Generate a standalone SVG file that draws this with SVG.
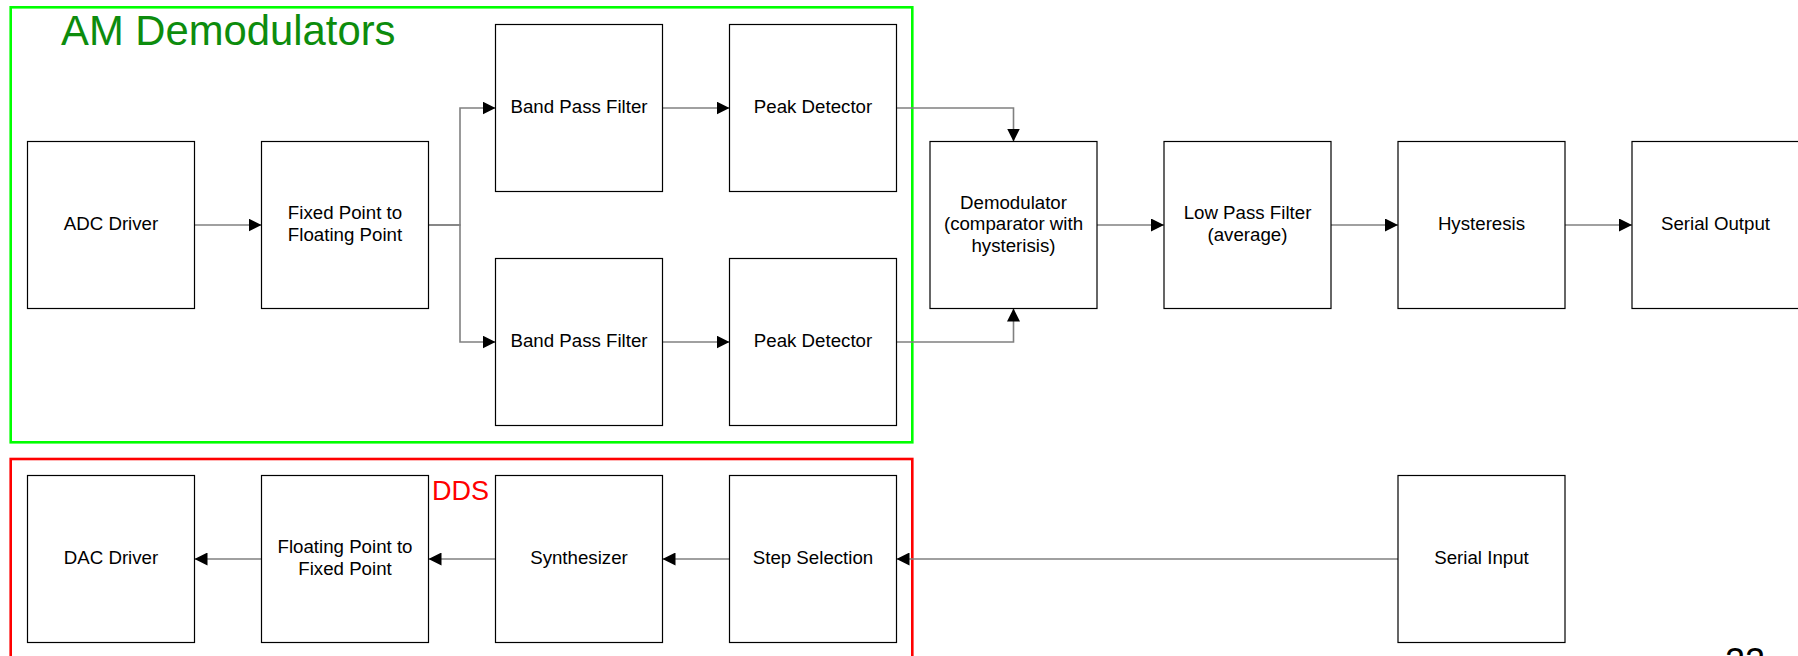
<svg xmlns="http://www.w3.org/2000/svg" width="1798" height="656" viewBox="0 0 1798 656">
  <defs>
    <marker id="arrow" viewBox="0 0 13 13" refX="13" refY="6.5" markerWidth="13" markerHeight="13" markerUnits="userSpaceOnUse" orient="auto">
      <path d="M0,0 L13,6.5 L0,13 z" fill="#000"/>
    </marker>
    <style>
      .box { fill: #fff; stroke: #000; stroke-width: 1.2; }
      .lbl { font-family: "Liberation Sans", Arial, sans-serif; font-size: 18.7px; fill: #000; text-anchor: middle; }
      .wire { fill: none; stroke: #808080; stroke-width: 1.6; marker-end: url(#arrow); }
      .frame { fill: none; stroke-width: 2.6; }
    </style>
  </defs>
  <rect width="1798" height="656" fill="#fff"/>

  <!-- group frames -->
  <g id="am-demodulators">
    <rect class="frame" x="10.7" y="7.3" width="901.6" height="435" stroke="#00ff00"/>
    <text x="61" y="45" font-family="Liberation Sans, Arial, sans-serif" font-size="41.8" fill="#0d8c0d">AM Demodulators</text>
  </g>
  <g id="dds">
    <rect class="frame" x="10.7" y="459" width="901.6" height="220" stroke="#ff0000"/>
    <text x="432" y="500" font-family="Liberation Sans, Arial, sans-serif" font-size="27" fill="#ff0000">DDS</text>
  </g>

  <!-- connectors -->
  <g id="connectors">
    <path class="wire" d="M194.5 225 H261.5"/>
    <path class="wire" d="M428.5 225 H460 V108 H495.5"/>
    <path class="wire" d="M428.5 225 H460 V342 H495.5"/>
    <path class="wire" d="M662.5 108 H729.5"/>
    <path class="wire" d="M662.5 342 H729.5"/>
    <path class="wire" d="M896.5 108 H1013.5 V141.5"/>
    <path class="wire" d="M896.5 342 H1013.5 V308.5"/>
    <path class="wire" d="M1097 225 H1164"/>
    <path class="wire" d="M1331 225 H1398"/>
    <path class="wire" d="M1565 225 H1632"/>
    <path class="wire" d="M1398 559 H896.5"/>
    <path class="wire" d="M729.5 559 H662.5"/>
    <path class="wire" d="M495.5 559 H428.5"/>
    <path class="wire" d="M261.5 559 H194.5"/>
  </g>

  <!-- receive chain -->
  <g id="adc-driver">
    <rect class="box" x="27.5" y="141.5" width="167" height="167"/>
    <text class="lbl" x="111" y="230.3">ADC Driver</text>
  </g>
  <g id="fixed-to-float">
    <rect class="box" x="261.5" y="141.5" width="167" height="167"/>
    <text class="lbl" x="345" y="219.4">Fixed Point to</text>
    <text class="lbl" x="345" y="241.1">Floating Point</text>
  </g>
  <g id="band-pass-1">
    <rect class="box" x="495.5" y="24.5" width="167" height="167"/>
    <text class="lbl" x="579" y="113.3">Band Pass Filter</text>
  </g>
  <g id="peak-detector-1">
    <rect class="box" x="729.5" y="24.5" width="167" height="167"/>
    <text class="lbl" x="813" y="113.3">Peak Detector</text>
  </g>
  <g id="band-pass-2">
    <rect class="box" x="495.5" y="258.5" width="167" height="167"/>
    <text class="lbl" x="579" y="347.3">Band Pass Filter</text>
  </g>
  <g id="peak-detector-2">
    <rect class="box" x="729.5" y="258.5" width="167" height="167"/>
    <text class="lbl" x="813" y="347.3">Peak Detector</text>
  </g>
  <g id="demodulator">
    <rect class="box" x="930" y="141.5" width="167" height="167"/>
    <text class="lbl" x="1013.5" y="208.6">Demodulator</text>
    <text class="lbl" x="1013.5" y="230.3">(comparator with</text>
    <text class="lbl" x="1013.5" y="252">hysterisis)</text>
  </g>
  <g id="low-pass">
    <rect class="box" x="1164" y="141.5" width="167" height="167"/>
    <text class="lbl" x="1247.5" y="219.4">Low Pass Filter</text>
    <text class="lbl" x="1247.5" y="241.1">(average)</text>
  </g>
  <g id="hysteresis">
    <rect class="box" x="1398" y="141.5" width="167" height="167"/>
    <text class="lbl" x="1481.5" y="230.3">Hysteresis</text>
  </g>
  <g id="serial-output">
    <rect class="box" x="1632" y="141.5" width="167" height="167"/>
    <text class="lbl" x="1715.5" y="230.3">Serial Output</text>
  </g>

  <!-- transmit chain -->
  <g id="dac-driver">
    <rect class="box" x="27.5" y="475.5" width="167" height="167"/>
    <text class="lbl" x="111" y="564.3">DAC Driver</text>
  </g>
  <g id="float-to-fixed">
    <rect class="box" x="261.5" y="475.5" width="167" height="167"/>
    <text class="lbl" x="345" y="553.4">Floating Point to</text>
    <text class="lbl" x="345" y="575.1">Fixed Point</text>
  </g>
  <g id="synthesizer">
    <rect class="box" x="495.5" y="475.5" width="167" height="167"/>
    <text class="lbl" x="579" y="564.3">Synthesizer</text>
  </g>
  <g id="step-selection">
    <rect class="box" x="729.5" y="475.5" width="167" height="167"/>
    <text class="lbl" x="813" y="564.3">Step Selection</text>
  </g>
  <g id="serial-input">
    <rect class="box" x="1398" y="475.5" width="167" height="167"/>
    <text class="lbl" x="1481.5" y="564.3">Serial Input</text>
  </g>

  <!-- page number, partly below the slide edge -->
  <text x="1725" y="674" font-family="Liberation Sans, Arial, sans-serif" font-size="36" fill="#000">22</text>
</svg>
